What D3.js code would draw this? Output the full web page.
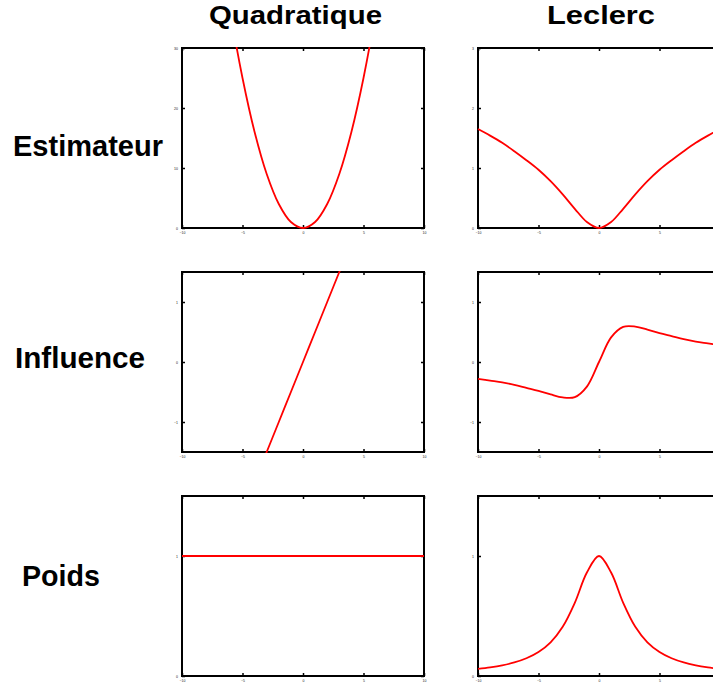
<!DOCTYPE html>
<html>
<head>
<meta charset="utf-8">
<script src="https://cdn.jsdelivr.net/npm/d3@7"></script>
<style>
  html, body { margin: 0; padding: 0; background: #fff; overflow: hidden; }
  svg { display: block; }
  .lbl { font-family: "Liberation Sans", Arial, sans-serif; font-weight: bold; font-size: 29px; fill: #000; }
  .ttl { font-size: 26px; }
  .tick text { font-family: "Liberation Sans", Arial, sans-serif; font-size: 3.5px; fill: #222; }
</style>
</head>
<body>
<script>
// Abscissa samples shared by every panel (residual x)
const xs = [-10,-9,-8,-7,-6,-5,-4,-3,-2,-1,0,1,2,3,4,5,6,7,8,9,10];
const xTicks = [-10, -5, 0, 5, 10];

// Quadratic estimator: rho, psi and weight
const quadEstimateur = [100,81,64,49,36,25,16,9,4,1,0,1,4,9,16,25,36,49,64,81,100];
const quadInfluence  = [-5,-4.5,-4,-3.5,-3,-2.5,-2,-1.5,-1,-0.5,0,0.5,1,1.5,2,2.5,3,3.5,4,4.5,5];
const quadPoids      = [1,1,1,1,1,1,1,1,1,1,1,1,1,1,1,1,1,1,1,1,1];

// Leclerc estimator: rho, psi and weight
const leclercEstimateur = [1.65,1.54,1.42,1.28,1.13,0.97,0.78,0.56,0.32,0.10,0,0.10,0.32,0.56,0.78,0.97,1.13,1.28,1.42,1.54,1.65];
const leclercInfluence  = [-0.28,-0.31,-0.34,-0.38,-0.43,-0.48,-0.54,-0.59,-0.585,-0.41,0,0.41,0.585,0.59,0.54,0.48,0.43,0.38,0.34,0.31,0.28];
const leclercPoids      = [0.059,0.072,0.089,0.113,0.148,0.2,0.281,0.41,0.61,0.862,1,0.862,0.61,0.41,0.281,0.2,0.148,0.113,0.089,0.072,0.059];

const columnTitles = ["Quadratique", "Leclerc"];
const rowTitles = ["Estimateur", "Influence", "Poids"];

// y domains and ticks for each row, per column
const yDomains = [
  [[0, 30], [0, 3]],
  [[-1.5, 1.5], [-1.5, 1.5]],
  [[0, 1.5], [0, 1.5]]
];
const yTicks = [
  [[0, 10, 20, 30], [0, 1, 2, 3]],
  [[-1, 0, 1], [-1, 0, 1]],
  [[0, 1], [0, 1]]
];
const series = [
  [quadEstimateur, leclercEstimateur],
  [quadInfluence, leclercInfluence],
  [quadPoids, leclercPoids]
];

const W = 713, H = 687;
const colLeft = [182, 478];
const rowTop = [48, 272, 496];
const pw = 242, ph = 180;
const fmt = d3.format("d");

const svg = d3.select("body").append("svg").attr("width", W).attr("height", H);

// column headers
const titlePos = [{x: 209, w: 173}, {x: 547, w: 108}];
columnTitles.forEach((t, i) => {
  svg.append("text").attr("class", "lbl ttl")
    .attr("x", titlePos[i].x).attr("y", 24)
    .attr("textLength", titlePos[i].w).attr("lengthAdjust", "spacingAndGlyphs")
    .text(t);
});

// row headers
const rowPos = [{x: 13, y: 156, w: 150}, {x: 15, y: 368, w: 130}, {x: 22, y: 586, w: 78}];
rowTitles.forEach((t, i) => {
  svg.append("text").attr("class", "lbl")
    .attr("x", rowPos[i].x).attr("y", rowPos[i].y)
    .attr("textLength", rowPos[i].w).attr("lengthAdjust", "spacingAndGlyphs")
    .text(t);
});

const x = d3.scaleLinear().domain([-10, 10]).range([0, pw]);

rowTop.forEach((top, r) => {
  colLeft.forEach((left, c) => {
    const g = svg.append("g").attr("transform", `translate(${left},${top})`);
    const y = d3.scaleLinear().domain(yDomains[r][c]).range([ph, 0]);
    const clipId = `clip-${r}-${c}`;
    g.append("clipPath").attr("id", clipId)
      .append("rect").attr("x", -1).attr("y", -1).attr("width", pw + 2).attr("height", ph + 2);

    // inward ticks on all four sides
    const bottom = g.append("g").attr("transform", `translate(0,${ph})`)
      .call(d3.axisBottom(x).tickValues(xTicks).tickFormat(fmt).tickSizeInner(-3).tickSizeOuter(0).tickPadding(4));
    const topAx = g.append("g")
      .call(d3.axisTop(x).tickValues(xTicks).tickSizeInner(-3).tickSizeOuter(0).tickFormat(""));
    const leftAx = g.append("g")
      .call(d3.axisLeft(y).tickValues(yTicks[r][c]).tickFormat(fmt).tickSizeInner(-3).tickSizeOuter(0).tickPadding(4));
    const rightAx = g.append("g").attr("transform", `translate(${pw},0)`)
      .call(d3.axisRight(y).tickValues(yTicks[r][c]).tickSizeInner(-3).tickSizeOuter(0).tickFormat(""));
    [bottom, topAx, leftAx, rightAx].forEach(a => {
      a.select(".domain").remove();
      a.selectAll(".tick line").attr("stroke", "#000").attr("stroke-width", 1.5);
    });
    // labels that would fall past the right edge of the page are dropped
    bottom.selectAll(".tick").filter(d => left + x(d) > W - 2).select("text").remove();

    // frame
    g.append("rect").attr("width", pw).attr("height", ph)
      .attr("fill", "none").attr("stroke", "#000").attr("stroke-width", 2);

    // curve
    const line = d3.line()
      .x((d, i) => x(xs[i]))
      .y(d => y(d))
      .curve(d3.curveCatmullRom.alpha(0.5));
    g.append("path")
      .attr("clip-path", `url(#${clipId})`)
      .attr("d", line(series[r][c]))
      .attr("fill", "none").attr("stroke", "#ff0000").attr("stroke-width", 1.8);
  });
});
</script>
</body>
</html>
